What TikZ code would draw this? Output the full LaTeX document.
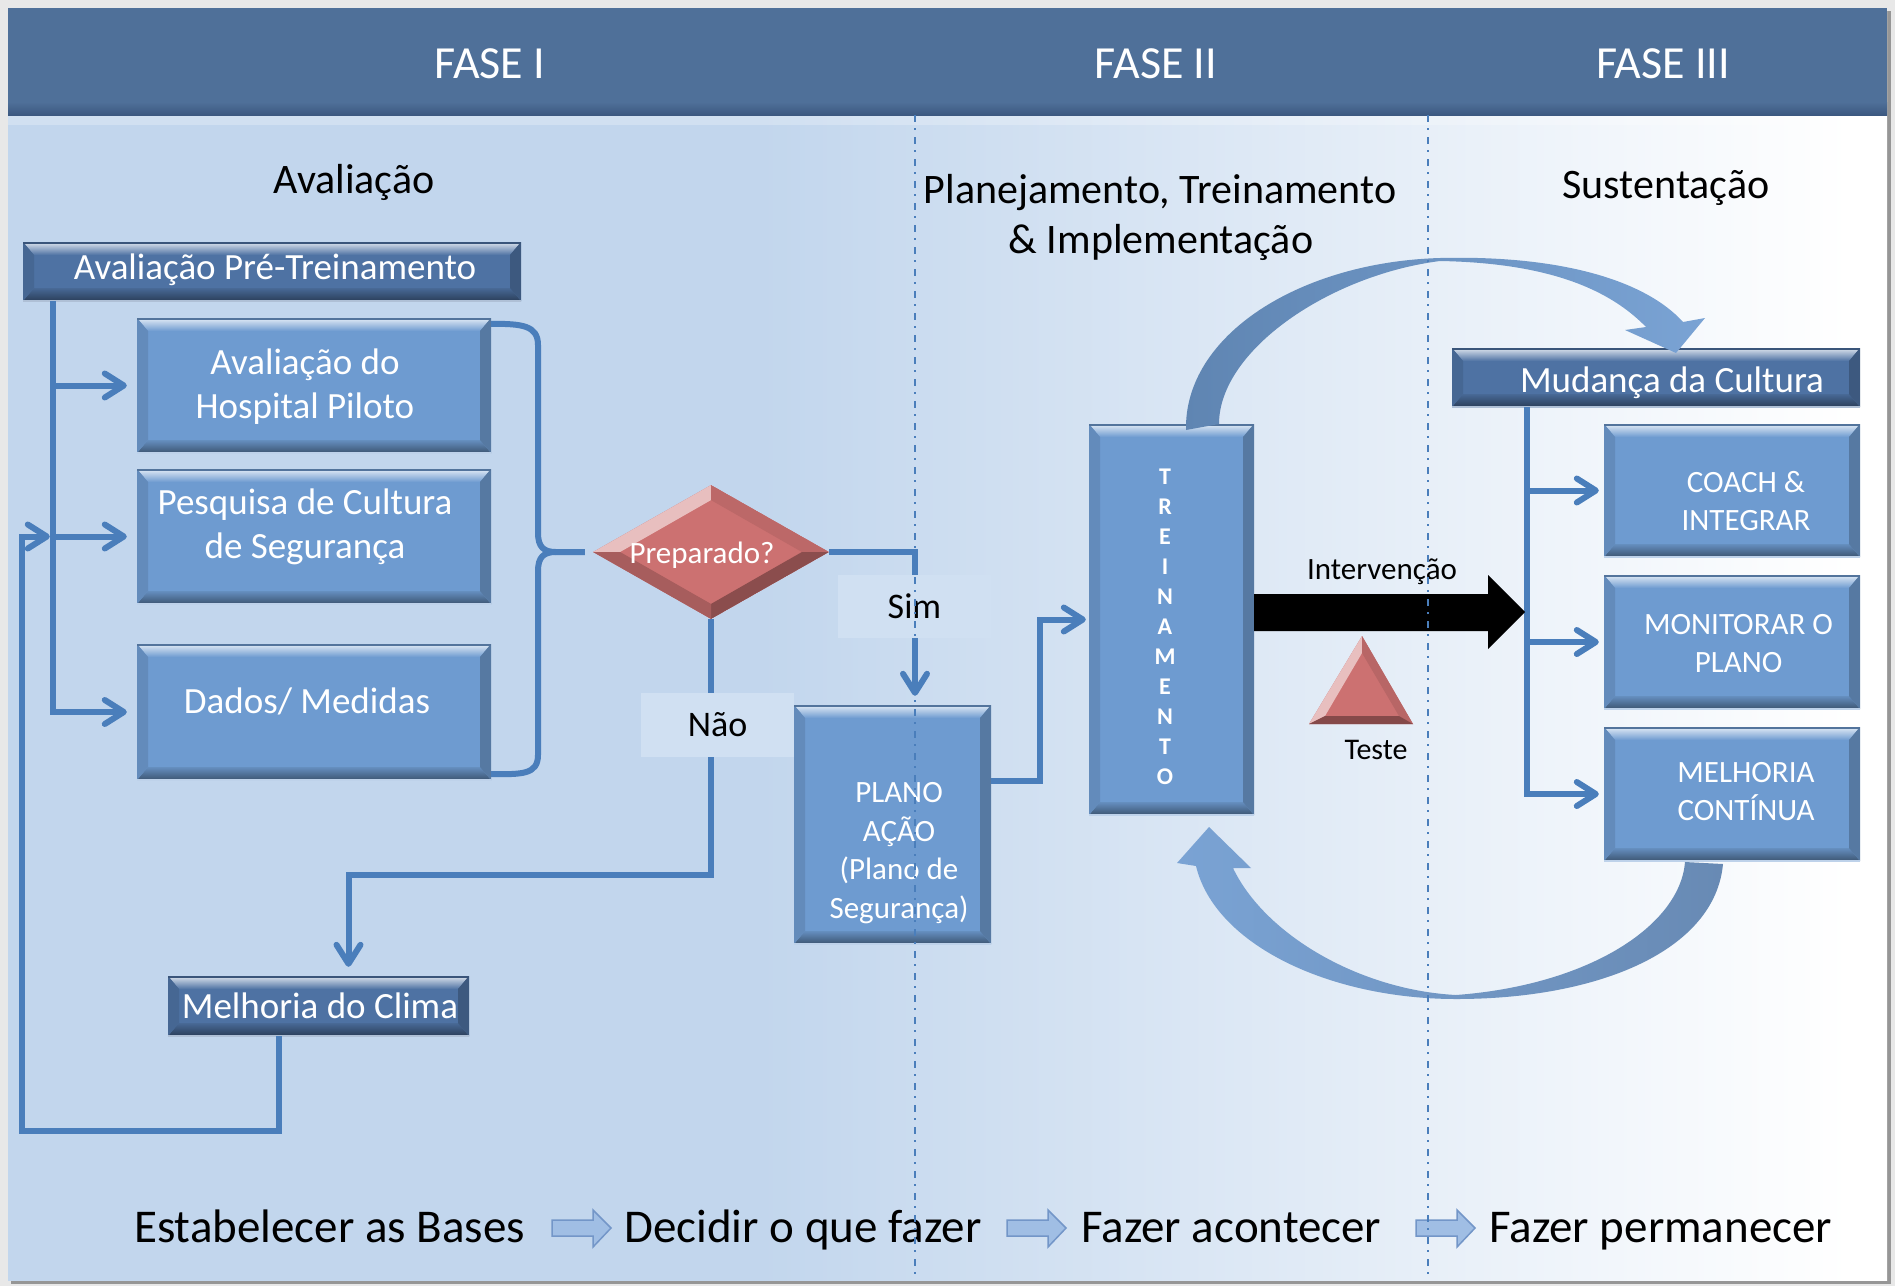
\documentclass[tikz,border=0pt]{standalone}
\usepackage{fontspec}
\setmainfont{Carlito}
\usetikzlibrary{calc,arrows.meta,shapes.geometric}

\definecolor{pagegray}{RGB}{232,232,232}
\definecolor{shadowgray}{RGB}{150,150,150}
\definecolor{hdr}{RGB}{79,112,153}
\definecolor{hdrdark}{RGB}{60,88,128}
\definecolor{body}{RGB}{194,214,237}
\definecolor{boxblue}{RGB}{110,155,208}
\definecolor{darkblue}{RGB}{78,114,163}
\definecolor{diam}{RGB}{204,113,113}
\definecolor{conncol}{RGB}{74,126,187}
\definecolor{labbg}{RGB}{208,224,242}
\definecolor{arrdark}{RGB}{95,133,178}
\definecolor{arrlight}{RGB}{122,163,212}
\definecolor{arrdarkb}{RGB}{104,138,180}
\definecolor{blkline}{RGB}{115,150,200}
\definecolor{blkfill}{RGB}{160,190,228}

\pgfdeclarehorizontalshading{bodyshade}{100bp}{color(0bp)=(body); color(45bp)=(body); color(74bp)=(white); color(100bp)=(white)}

\newcommand\fsz[2]{\fontsize{#1pt}{#2pt}\selectfont}
\newcommand\blkarrow[1]{%
  \path[draw=blkline, line width=1.5pt, top color=blkfill, middle color=white, bottom color=blkfill]
    (#1,1220) -- ++(41,0) -- ++(0,-10) -- ++(18,18) -- ++(-18,19) -- ++(0,-11) -- ++(-41,0) -- cycle;}

\tikzset{
  bev/.style={path picture={
    \path (path picture bounding box.north west) coordinate (q1)
          (path picture bounding box.north east) coordinate (q2)
          (path picture bounding box.south east) coordinate (q3)
          (path picture bounding box.south west) coordinate (q4);
    \shade[top color=white!80!#1, bottom color=#1] (q1) -- (q2) -- ($(q2)+(-11,13)$) -- ($(q1)+(11,13)$) -- cycle;
    \shade[top color=#1!92!black, bottom color=#1!55!black] (q4) -- (q3) -- ($(q3)+(-11,-13)$) -- ($(q4)+(11,-13)$) -- cycle;
    \fill[#1!90!black] (q1) -- ($(q1)+(11,13)$) -- ($(q4)+(11,-13)$) -- (q4) -- cycle;
    \fill[#1!78!black] (q2) -- ($(q2)+(-11,13)$) -- ($(q3)+(-11,-13)$) -- (q3) -- cycle;
    \draw[#1!75!black, line width=3pt] (q1) -- (q2);
    \draw[white!55!#1, line width=3pt] (q4) -- (q3);
  }},
  dbev/.style={path picture={
    \path (path picture bounding box.north) coordinate (dn)
          (path picture bounding box.east) coordinate (de)
          (path picture bounding box.south) coordinate (ds)
          (path picture bounding box.west) coordinate (dw);
    \path ($(dn)+(0,15)$) coordinate (dn2) ($(de)+(-27,0)$) coordinate (de2)
          ($(ds)+(0,-15)$) coordinate (ds2) ($(dw)+(27,0)$) coordinate (dw2);
    \fill[white!55!#1] (dw) -- (dn) -- (dn2) -- (dw2) -- cycle;
    \fill[#1!92!black] (dn) -- (de) -- (de2) -- (dn2) -- cycle;
    \fill[#1!68!black] (de) -- (ds) -- (ds2) -- (de2) -- cycle;
    \fill[#1!82!black] (ds) -- (dw) -- (dw2) -- (ds2) -- cycle;
  }},
  box/.style={rectangle, fill=boxblue, inner sep=0pt, bev=boxblue},
  dbox/.style={rectangle, fill=darkblue, inner sep=0pt, bev=darkblue},
  wt/.style={text=white, inner sep=0pt, align=center},
  wts/.style={text=white, inner sep=0pt},
  bt/.style={text=black, inner sep=0pt},
  lab/.style={fill=labbg, text=black, inner sep=0pt, minimum width=153pt, minimum height=63pt, font=\fsz{36}{42}},
  conn/.style={draw=conncol, line width=6pt},
  arr/.style={-{Straight Barb[length=19pt, width=24pt, round]}},
  phase/.style={dash pattern=on 7pt off 6pt on 2pt off 7pt, draw=conncol, line width=2pt}
}

\begin{document}
\begin{tikzpicture}[x=1pt,y=-1pt]
\useasboundingbox (0,0) rectangle (1895,1286);
% background
\fill[pagegray] (0,0) rectangle (1895,1286);
\fill[shadowgray] (11,11) rectangle (1891,1284);
\shade[shading=bodyshade] (8,8) rectangle (1887,1280);
\fill[white, opacity=0.25] (8,115) rectangle (1887,125);
\fill[hdr] (8,8) rectangle (1887,115);
\shade[top color=hdr, bottom color=hdrdark] (8,102) rectangle (1887,115);

% phase headers
\node[wts, anchor=base, font=\fsz{46}{52}] (f1) at (490,78) {FASE I};
\node[wts, anchor=base, font=\fsz{46}{52}] (f2) at (1156,78) {FASE II};
\node[wts, anchor=base, font=\fsz{46}{52}] (f3) at (1663,78) {FASE III};

% section titles
\node[bt, anchor=base, font=\fsz{42}{50}] (avt) at (354,193) {Avaliação};
\node[bt, anchor=base, font=\fsz{42}{50}] (plt1) at (1160,203) {Planejamento, Treinamento};
\node[bt, anchor=base, font=\fsz{42}{50}] (plt2) at (1161,253) {\& Implementação};
\node[bt, anchor=base, font=\fsz{42}{50}] (sust) at (1666,198) {Sustentação};

% boxes phase I
\node[dbox, minimum width=498pt, minimum height=59pt] (pre) at (272,271.5) {};
\node[wts, anchor=base, font=\fsz{37}{45}] (pret) at (275,279) {Avaliação Pré-Treinamento};
\node[box, minimum width=354pt, minimum height=135pt] (hosp) at (314,385.5) {};
\node[wt, font=\fsz{37}{44}] (hospt) at (305,387) {Avaliação do\\Hospital Piloto};
\node[box, minimum width=354pt, minimum height=135pt] (pesq) at (314,536.5) {};
\node[wt, font=\fsz{37}{44}] (pesqt) at (305,527) {Pesquisa de Cultura\\de Segurança};
\node[box, minimum width=354pt, minimum height=136pt] (dados) at (314,712) {};
\node[wts, anchor=base, font=\fsz{37}{44}] (dadost) at (307,713) {Dados/ Medidas};
\node[dbox, minimum width=301pt, minimum height=60pt] (clima) at (318.5,1006) {};
\node[wts, anchor=base, font=\fsz{37}{44}] (climat) at (320,1018) {Melhoria do Clima};

% decision
\node[diamond, fill=diam, minimum width=236pt, minimum height=134pt, inner sep=0pt, aspect=1.76, dbev=diam] (prep) at (711,552) {};
\node[wts, anchor=base, font=\fsz{31}{37}] (prept) at (702,563) {Preparado?};

% phase II
\node[box, minimum width=197pt, minimum height=239pt] (plano) at (892.5,824.5) {};
\node[wt, font=\fsz{31}{38.5}] (planot) at (899,853) {PLANO\\AÇÃO\\(Plano de\\Segurança)};
\node[box, minimum width=165pt, minimum height=391pt] (trein) at (1171.5,619.5) {};
\node[wt, font=\bfseries\fsz{24}{30}] (treint) at (1165,627) {T\\R\\E\\I\\N\\A\\M\\E\\N\\T\\O};

% phase III
\node[dbox, minimum width=408pt, minimum height=59pt] (mud) at (1656,377.5) {};
\node[wts, anchor=base, font=\fsz{37}{44}] (mudt) at (1672,392) {Mudança da Cultura};
\node[box, minimum width=256pt, minimum height=133pt] (coach) at (1732,490.5) {};
\node[wt, font=\fsz{31}{38}] (coacht) at (1746,501) {COACH \&\\INTEGRAR};
\node[box, minimum width=256pt, minimum height=134pt] (monit) at (1732,642) {};
\node[wt, font=\fsz{31}{38}] (monitt) at (1738.5,643.5) {MONITORAR O\\PLANO};
\node[box, minimum width=256pt, minimum height=134pt] (melh) at (1732,794) {};
\node[wt, font=\fsz{31}{38}] (melht) at (1746,792) {MELHORIA\\CONTÍNUA};

% left tree
\coordinate (lt) at ($(pre.south west)+(30,0)$);
\draw[conn, arr, shorten >=10pt] (lt) |- (dados.west);
\draw[conn, arr, shorten >=10pt] (lt |- hosp.west) -- (hosp.west);
\draw[conn, arr, shorten >=10pt] (lt |- pesq.west) -- (pesq.west);

% bracket to decision
\draw[conn] ($(hosp.north east)+(0,6)$) .. controls +(30,0) and +(0,-20) .. (538,345) -- (538,533)
  .. controls +(0,14) and +(-12,0) .. ($(prep.west)+(-37,0)$) -- ($(prep.west)+(-8,0)$);
\draw[conn] ($(dados.south east)+(0,-6)$) .. controls +(30,0) and +(0,20) .. (538,755) -- (538,571)
  .. controls +(0,-14) and +(-12,0) .. ($(prep.west)+(-37,0)$);

% decision branches
\draw[conn, arr] (prep.east) -| ($(plano.north)+(22.5,-9)$);
\draw[conn, arr] (prep.south) -- ($(prep.south)+(0,256)$) -| ($(clima.north)+(30,-9)$);
\node[lab] (sim) at (914.5,606.5) {Sim};
\node[lab, minimum height=64pt] (nao) at (717.5,725) {Não};

% feedback from clima
\coordinate (fbx) at (22,1131);
\draw[conn, arr, shorten >=3pt] ($(clima.south)+(-39.5,0)$) |- (fbx) |- (lt |- pesq.west);

% plano -> treinamento
\draw[conn, arr, shorten >=3pt] ($(plano.east)+(0,-43.5)$) -- ++(49,0) |- (trein.west);

% right tree
\coordinate (rt) at ($(mud.south west)+(75,0)$);
\draw[conn, arr, shorten >=5pt] (rt) |- (melh.west);
\draw[conn, arr, shorten >=5pt] (rt |- coach.west) -- (coach.west);
\draw[conn, arr, shorten >=5pt] (rt |- monit.west) -- (monit.west);

% intervention arrow
\coordinate (intv) at (1525,612);
\fill[black] ($(trein.east)+(0,-25.5)$) -- ($(intv)+(-37,-18)$) -- ($(intv)+(-37,-37)$) -- (intv)
  -- ($(intv)+(-37,37)$) -- ($(intv)+(-37,19)$) -- ($(trein.east)+(0,11.5)$) -- cycle;
\node[bt, anchor=base, font=\fsz{31}{37}] (intt) at (1382,579) {Intervenção};

% test triangle
\path (1362,636) coordinate (ta) (1413,724) coordinate (tb) (1309,724) coordinate (tc)
      (1362,653) coordinate (ta2) (1399,716) coordinate (tb2) (1325,716) coordinate (tc2);
\fill[diam] (ta) -- (tb) -- (tc) -- cycle;
\fill[white!55!diam] (tc) -- (ta) -- (ta2) -- (tc2) -- cycle;
\fill[diam!90!black] (ta) -- (tb) -- (tb2) -- (ta2) -- cycle;
\fill[diam!65!black] (tb) -- (tc) -- (tc2) -- (tb2) -- cycle;
\node[bt, anchor=base, font=\fsz{30}{36}] (teste) at (1376,759) {Teste};

% big curved arrows
\shade[left color=arrdark, right color=arrlight]
  (1186,430) .. controls (1184,335) and (1300,262) .. (1440,258)
  .. controls (1560,255) and (1645,280) .. (1683,322)
  -- (1705,318) -- (1676,353) -- (1625,330) -- (1646,327)
  .. controls (1610,290) and (1550,263) .. (1440,261)
  .. controls (1330,275) and (1219,350) .. (1219,424) -- cycle;
\shade[left color=arrlight, right color=arrdarkb]
  (1723,864) .. controls (1715,950) and (1600,999) .. (1456,999)
  .. controls (1330,999) and (1215,945) .. (1196,866)
  -- (1177,863) -- (1209,827) -- (1251,868) -- (1233,868)
  .. controls (1265,935) and (1360,990) .. (1456,995)
  .. controls (1590,985) and (1680,925) .. (1685,862) -- cycle;

% bottom line
\node[bt, anchor=base west, font=\fsz{47}{54}] (b1) at (134,1242) {Estabelecer as Bases};
\node[bt, anchor=base west, font=\fsz{47}{54}] (b2) at (624,1242) {Decidir o que fazer};
\node[bt, anchor=base west, font=\fsz{47}{54}] (b3) at (1081,1242) {Fazer acontecer};
\node[bt, anchor=base west, font=\fsz{47}{54}] (b4) at (1489,1242) {Fazer permanecer};
\blkarrow{552}
\blkarrow{1007}
\blkarrow{1416}

% phase separators
\draw[phase] (915,115) -- (915,1280);
\draw[phase] (1428,115) -- (1428,1280);
\end{tikzpicture}
\end{document}
